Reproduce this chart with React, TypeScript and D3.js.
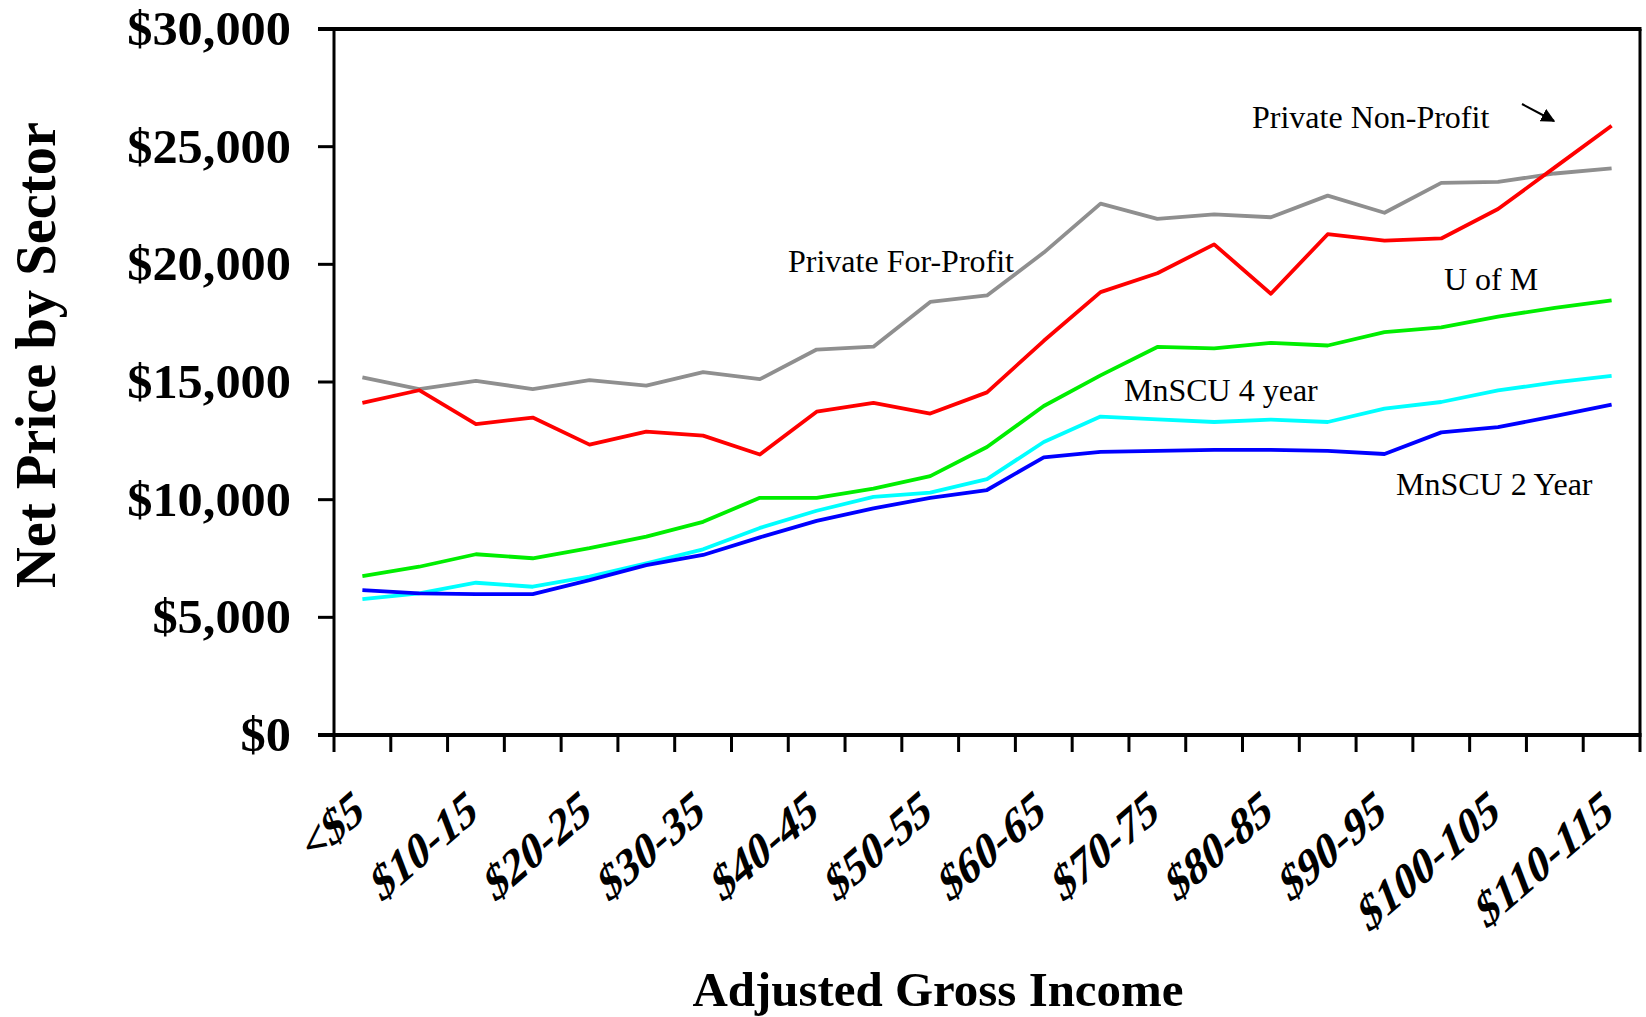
import React, { useEffect, useRef } from "react";
import * as d3 from "d3";

// income brackets ($ thousands), only every other one gets a label
const categories = [
  "<$5", "$5-10", "$10-15", "$15-20", "$20-25", "$25-30", "$30-35", "$35-40",
  "$40-45", "$45-50", "$50-55", "$55-60", "$60-65", "$65-70", "$70-75", "$75-80",
  "$80-85", "$85-90", "$90-95", "$95-100", "$100-105", "$105-110", "$110-115",
];

const privateForProfit = [15200, 14700, 15050, 14700, 15080, 14850, 15420, 15120, 16380, 16500, 18400, 18680, 20500, 22580, 21930, 22120, 22000, 22920, 22190, 23460, 23500, 23860, 24080];
const privateNonProfit = [14110, 14650, 13210, 13490, 12340, 12890, 12720, 11920, 13740, 14110, 13660, 14560, 16750, 18820, 19620, 20850, 18750, 21280, 21010, 21100, 22350, 24120, 25890];
const uOfM = [6750, 7150, 7680, 7510, 7940, 8430, 9060, 10080, 10080, 10470, 11000, 12240, 13980, 15280, 16490, 16430, 16660, 16550, 17120, 17320, 17780, 18150, 18470];
const mnscu4 = [5770, 6020, 6470, 6300, 6730, 7290, 7890, 8800, 9530, 10120, 10300, 10870, 12450, 13530, 13410, 13300, 13400, 13300, 13870, 14150, 14640, 14980, 15260];
const mnscu2 = [6160, 6020, 5990, 5990, 6580, 7220, 7650, 8400, 9100, 9630, 10080, 10410, 11800, 12030, 12070, 12120, 12120, 12070, 11940, 12860, 13080, 13550, 14040];

const yTicks = [0, 5000, 10000, 15000, 20000, 25000, 30000];

const series = [
  { name: "Private For-Profit", values: privateForProfit, color: "#8f8f8f" },
  { name: "Private Non-Profit", values: privateNonProfit, color: "#ff0000" },
  { name: "U of M", values: uOfM, color: "#00ee00" },
  { name: "MnSCU 4 year", values: mnscu4, color: "#00ffff" },
  { name: "MnSCU 2 Year", values: mnscu2, color: "#0000ff" },
];

const serif = "'Liberation Serif', 'Times New Roman', serif";

export default function App() {
  const svgRef = useRef(null);

  useEffect(() => {
    const svg = d3.select(svgRef.current);
    svg.selectAll("*").remove();

    const left = 334, right = 1640, top = 29, bottom = 735;

    const x = d3.scaleBand().domain(categories).range([left, right]).padding(0);
    const y = d3.scaleLinear().domain([0, 30000]).range([bottom, top]);

    // frame
    svg.append("line").attr("x1", left - 16).attr("x2", right + 1.5)
      .attr("y1", top).attr("y2", top).attr("stroke", "#000").attr("stroke-width", 4);
    svg.append("line").attr("x1", right).attr("x2", right)
      .attr("y1", top).attr("y2", bottom).attr("stroke", "#000").attr("stroke-width", 3);
    svg.append("line").attr("x1", left).attr("x2", left)
      .attr("y1", top).attr("y2", bottom).attr("stroke", "#000").attr("stroke-width", 3);
    svg.append("line").attr("x1", left - 16).attr("x2", right + 1.5)
      .attr("y1", bottom).attr("y2", bottom).attr("stroke", "#000").attr("stroke-width", 4);

    // y ticks + labels
    const yg = svg.append("g");
    yg.selectAll("line").data(yTicks).enter().append("line")
      .attr("x1", left - 16).attr("x2", left)
      .attr("y1", (d) => y(d)).attr("y2", (d) => y(d))
      .attr("stroke", "#000").attr("stroke-width", 3);
    yg.selectAll("text").data(yTicks).enter().append("text")
      .attr("transform", (d) => `translate(291,${y(d) + 16}) scale(1.05,1)`)
      .attr("text-anchor", "end")
      .attr("font-family", serif).attr("font-weight", "bold").attr("font-size", 48)
      .text((d) => d3.format("$,")(d));

    // x ticks at band edges
    const edges = categories.map((c) => x(c)).concat([right]);
    svg.append("g").selectAll("line").data(edges).enter().append("line")
      .attr("x1", (d) => d).attr("x2", (d) => d)
      .attr("y1", bottom).attr("y2", bottom + 17)
      .attr("stroke", "#000").attr("stroke-width", 3);

    // slanted labels, every other category
    svg.append("g").selectAll("text")
      .data(categories.filter((c, i) => i % 2 === 0)).enter().append("text")
      .attr("transform", (d) => `translate(${x(d) + x.bandwidth() / 2 + 3},818) rotate(-41) skewX(-20)`)
      .attr("text-anchor", "end")
      .attr("font-family", serif).attr("font-weight", "bold").attr("font-size", 46)
      .text((d) => d);

    // lines
    const line = d3.line()
      .x((d, i) => x(categories[i]) + x.bandwidth() / 2)
      .y((d) => y(d));
    svg.append("g").selectAll("path").data(series).enter().append("path")
      .attr("d", (s) => line(s.values))
      .attr("fill", "none")
      .attr("stroke", (s) => s.color)
      .attr("stroke-width", 3.8)
      .attr("stroke-linejoin", "round");

    // series annotations
    const notes = [
      { text: "Private Non-Profit", x: 1252, y: 128 },
      { text: "Private For-Profit", x: 788, y: 272 },
      { text: "U of M", x: 1444, y: 290 },
      { text: "MnSCU 4 year", x: 1124, y: 401 },
      { text: "MnSCU 2 Year", x: 1396, y: 495 },
    ];
    svg.append("g").selectAll("text").data(notes).enter().append("text")
      .attr("x", (d) => d.x).attr("y", (d) => d.y)
      .attr("font-family", serif).attr("font-size", 32)
      .text((d) => d.text);

    // arrow pointing at the private non-profit line
    svg.append("defs").append("marker")
      .attr("id", "arrowhead").attr("viewBox", "0 0 10 10")
      .attr("refX", 9).attr("refY", 5)
      .attr("markerWidth", 7).attr("markerHeight", 7)
      .attr("markerUnits", "strokeWidth")
      .attr("orient", "auto")
      .append("path").attr("d", "M0,0 L10,5 L0,10 Z").attr("fill", "#000");
    svg.append("line")
      .attr("x1", 1522).attr("y1", 104).attr("x2", 1554).attr("y2", 121)
      .attr("stroke", "#000").attr("stroke-width", 2)
      .attr("marker-end", "url(#arrowhead)");

    // axis titles
    svg.append("text")
      .attr("transform", "translate(55,355) rotate(-90)")
      .attr("text-anchor", "middle")
      .attr("font-family", serif).attr("font-weight", "bold").attr("font-size", 56)
      .attr("textLength", 466).attr("lengthAdjust", "spacingAndGlyphs")
      .text("Net Price by Sector");
    svg.append("text")
      .attr("x", 938).attr("y", 1006)
      .attr("text-anchor", "middle")
      .attr("font-family", serif).attr("font-weight", "bold").attr("font-size", 48)
      .attr("textLength", 491).attr("lengthAdjust", "spacingAndGlyphs")
      .text("Adjusted Gross Income");
  }, []);

  return (
    <svg
      ref={svgRef}
      width={1646}
      height={1017}
      style={{ position: "absolute", left: 0, top: 0, background: "#fff" }}
    />
  );
}
